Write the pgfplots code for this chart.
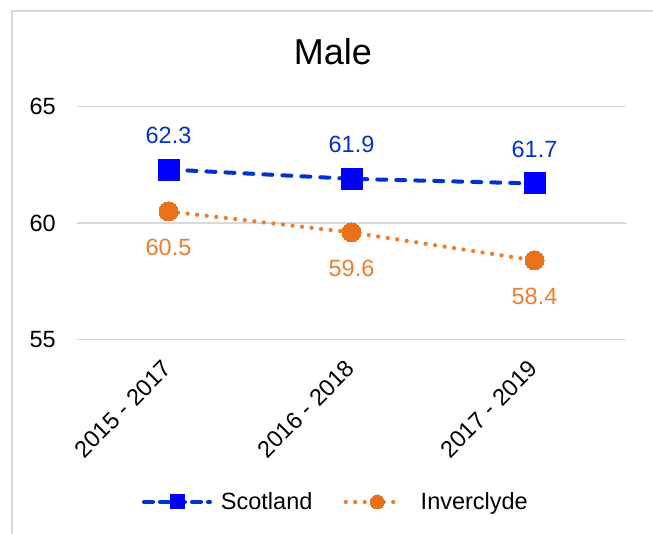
\documentclass[border=0pt]{standalone}
\usepackage{fontspec}
\setmainfont{Liberation Sans}
\usepackage{pgfplots}
\pgfplotsset{compat=1.18}

\definecolor{scotline}{RGB}{0,51,204}
\definecolor{scotmark}{RGB}{0,0,255}
\definecolor{invline}{RGB}{237,125,49}
\definecolor{invmark}{RGB}{232,113,26}
\definecolor{gridgray}{RGB}{217,217,217}

\newcommand{\lblfont}{\fontsize{23.5}{28}\selectfont}

% legend samples: short line with a smaller marker in the middle
\pgfplotsset{
  scotlegend/.style={legend image code/.code={
    \path (0pt,0pt) (70pt,0pt);
    \draw[mark repeat=2, mark phase=2, ##1, dash pattern=on 9pt off 7pt, mark size=7pt]
      plot coordinates {(2pt,0pt) (36pt,0pt) (68pt,0pt)};}},
  invlegend/.style={legend image code/.code={
    \path (0pt,0pt) (68pt,0pt);
    \draw[mark repeat=2, mark phase=2, ##1, dash pattern=on 0pt off 9.5pt, mark size=7pt]
      plot coordinates {(2.15pt,0pt) (33.7pt,0pt) (59pt,0pt)};}},
}

\begin{document}
\begin{tikzpicture}[x=1pt,y=1pt]
\useasboundingbox (0,0) rectangle (653,534);
% chart frame (left and top edges)
\draw[gridgray, line width=1.5pt] (12,0) -- (12,523) -- (653,523);
\begin{axis}[
  at={(77pt,194.4pt)}, anchor=south west,
  scale only axis, width=549pt, height=233pt,
  xmin=-0.5, xmax=2.5, ymin=55, ymax=65,
  xtick={0,1,2},
  xticklabels={2015 - 2017, 2016 - 2018, 2017 - 2019},
  ytick={55,60,65},
  ymajorgrids, grid style={gridgray, line width=1.5pt},
  axis line style={draw=none}, major tick length=0pt,
  clip=false,
  tick label style={font=\lblfont},
  /pgf/number format/assume math mode=true,
  /pgf/number format/fixed, /pgf/number format/precision=1,
  yticklabel style={anchor=east, inner sep=0pt, xshift=-21pt},
  xticklabel style={inner sep=0pt, anchor=north east, xshift=-7pt, yshift=-19pt, rotate=45},
  title={Male},
  title style={at={(axis description cs:0.4663,1.157)}, anchor=base,
    font=\fontsize{36}{40}\selectfont},
  legend columns=2,
  legend style={draw=none, fill=none, at={(axis description cs:0.1147,-0.697)},
    anchor=west, inner sep=0pt, outer sep=0pt, font=\lblfont,
    nodes={inner sep=0pt},
    /tikz/every odd column/.append style={column sep=7pt},
    /tikz/every even column/.append style={column sep=29pt}},
]
\addplot[scotline, line width=4pt, line cap=round, dash pattern=on 9pt off 10pt,
  mark=square*, mark size=10.5pt,
  mark options={solid, fill=scotmark, draw=scotmark, line width=0pt},
  nodes near coords,
  every node near coord/.append style={font=\lblfont, text=scotline,
    anchor=center, yshift=34pt},
  scotlegend]
  coordinates {(0,62.3) (1,61.9) (2,61.7)};
\addlegendentry{Scotland}
\addplot[invline, line width=4.3pt, line cap=round, dash pattern=on 0pt off 9.6pt,
  mark=*, mark size=9.5pt,
  mark options={solid, fill=invmark, draw=invmark, line width=0pt},
  nodes near coords,
  every node near coord/.append style={font=\lblfont, text=invline,
    anchor=center, yshift=-36pt},
  invlegend]
  coordinates {(0,60.5) (1,59.6) (2,58.4)};
\addlegendentry{Inverclyde}
\end{axis}
\end{tikzpicture}
\end{document}
